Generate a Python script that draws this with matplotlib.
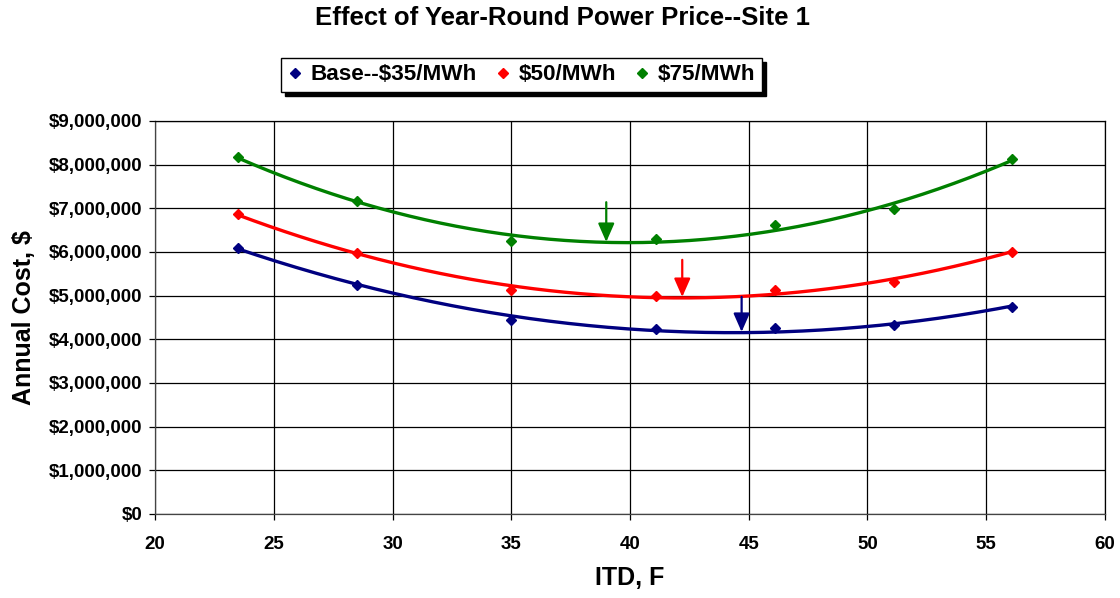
import numpy as np
import matplotlib
matplotlib.use("Agg")
import matplotlib.pyplot as plt
from matplotlib.ticker import FuncFormatter

plt.rcParams["font.family"] = ["Liberation Sans", "DejaVu Sans"]
plt.rcParams["font.weight"] = "bold"

# ITD (F) for each run and annual cost per power price
itd = [23.5, 28.5, 35.0, 41.1, 46.1, 51.1, 56.1]
cost_35 = [6.10e6, 5.25e6, 4.45e6, 4.23e6, 4.25e6, 4.32e6, 4.75e6]
cost_50 = [6.87e6, 5.97e6, 5.12e6, 5.00e6, 5.13e6, 5.32e6, 6.01e6]
cost_75 = [8.17e6, 7.17e6, 6.25e6, 6.30e6, 6.62e6, 6.98e6, 8.13e6]
labels = ["Base--$35/MWh", "$50/MWh", "$75/MWh"]
colors = ["#000080", "#FF0000", "#008000"]

# arrows marking the optimum ITD on each curve: x, y start, y end
arrow_x = [44.7, 42.2, 39.0]
arrow_y0 = [4.97e6, 5.82e6, 7.14e6]
arrow_y1 = [4.17e6, 4.97e6, 6.23e6]

fig = plt.figure(figsize=(11.2, 5.98), dpi=100)
ax = fig.add_axes([0.1384, 0.1405, 0.8482, 0.6572])

series = [cost_35, cost_50, cost_75]
xs = np.array(itd)
xfit = np.linspace(xs.min(), xs.max(), 200)
handles = []
for ys, c, lab in zip(series, colors, labels):
    coef = np.polyfit(xs, ys, 2)
    ax.plot(xfit, np.polyval(coef, xfit), color=c, lw=2.4, zorder=3)
    h, = ax.plot(xs, ys, ls="none", marker="D", ms=5, color=c, zorder=4, label=lab)
    handles.append(h)

for x, y0, y1, c in zip(arrow_x, arrow_y0, arrow_y1, colors):
    ax.annotate("", xy=(x, y1), xytext=(x, y0),
                arrowprops=dict(arrowstyle="-|>,head_length=0.75,head_width=0.33",
                                mutation_scale=15, color=c, lw=1.6,
                                shrinkA=0, shrinkB=0),
                zorder=5)

ax.set_xlim(20, 60)
ax.set_ylim(0, 9e6)
ax.set_xticks(range(20, 61, 5))
ax.set_yticks(np.arange(0, 9.01e6, 1e6))
ax.yaxis.set_major_formatter(FuncFormatter(lambda v, p: f"${v:,.0f}"))
ax.grid(True, color="black", lw=0.9)
ax.set_axisbelow(True)
for s in ax.spines.values():
    s.set_linewidth(0.9)
ax.spines["left"].set_color("#444444")
ax.spines["bottom"].set_color("#444444")
ax.tick_params(direction="out", length=4, width=0.9, labelsize=13.5, pad=5)
ax.tick_params(axis="x", pad=12)

ax.set_xlabel("ITD, F", fontsize=18, fontweight="bold", labelpad=9)
ax.set_ylabel("Annual Cost, $", fontsize=18, fontweight="bold", labelpad=9)
fig.text(0.502, 0.97, "Effect of Year-Round Power Price--Site 1",
         ha="center", va="center", fontsize=18.5, fontweight="bold")

leg = fig.legend(handles=handles, loc="center", bbox_to_anchor=(0.4655, 0.8746),
                 ncol=3, fontsize=16.2, frameon=True, fancybox=False,
                 edgecolor="black", handlelength=0.7, handletextpad=0.35,
                 columnspacing=0.8, borderpad=0.3, markerscale=1.0,
                 shadow={"ox": 3, "oy": -3, "color": "black", "alpha": 1})
leg.get_frame().set_linewidth(1.0)
for t in leg.get_texts():
    t.set_fontweight("bold")

fig.savefig("out.png", dpi=100)
